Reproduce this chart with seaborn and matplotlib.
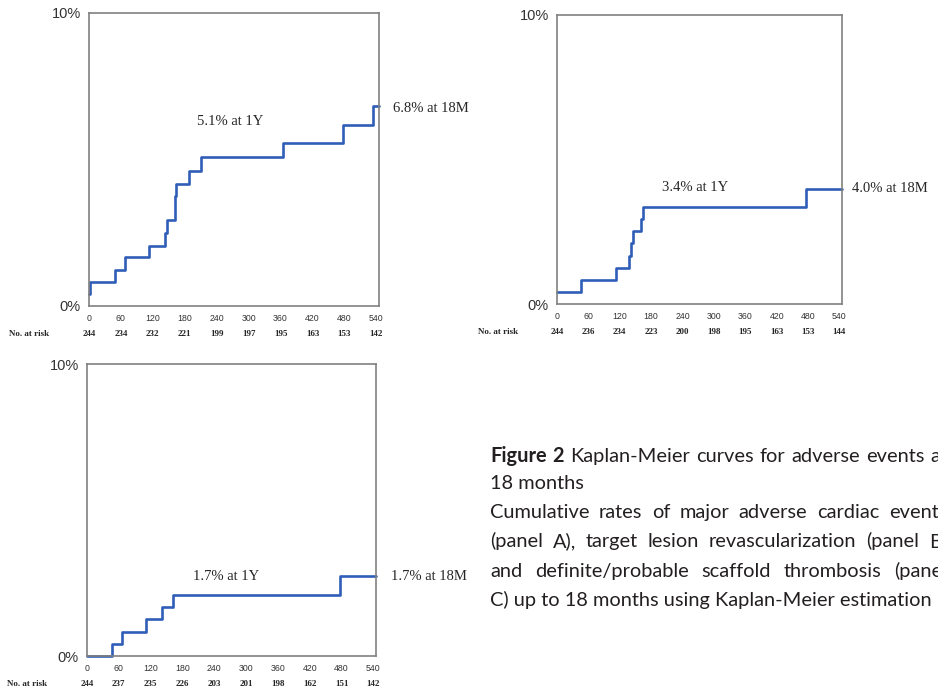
"""Kaplan-Meier curves (Figure 2) redrawn with seaborn step lines."""

import matplotlib

matplotlib.use("Agg")
import matplotlib.pyplot as plt
import pandas as pd
import seaborn as sns

DAY_TICKS = [0, 60, 120, 180, 240, 300, 360, 420, 480, 540]
RATE_TICKS = [0, 2, 4, 6, 8, 10]
RATE_LABELS = ["0%", "", "", "", "", "10%"]

# Panel A: major adverse cardiac events
A_DAYS = [0, 1, 48, 67, 112, 143, 146, 161, 164, 188, 210, 364, 478, 533, 545]
A_RATE = [0.41, 0.82, 1.24, 1.66, 2.06, 2.48, 2.92, 3.74, 4.18, 4.61, 5.09, 5.56, 6.18, 6.83, 6.83]
A_AT_RISK = [244, 234, 232, 221, 199, 197, 195, 163, 153, 142]
A_NOTES = ["5.1% at 1Y", "6.8% at 18M"]

# Panel B: target lesion revascularization
B_DAYS = [0, 46, 112, 137, 142, 145, 161, 164, 476, 545]
B_RATE = [0.41, 0.83, 1.26, 1.67, 2.10, 2.54, 2.95, 3.36, 3.99, 3.99]
B_AT_RISK = [244, 236, 234, 223, 200, 198, 195, 163, 153, 144]
B_NOTES = ["3.4% at 1Y", "4.0% at 18M"]

# Panel C: definite/probable scaffold thrombosis
C_DAYS = [0, 47, 66, 112, 142, 162, 478, 545]
C_RATE = [0.0, 0.41, 0.83, 1.27, 1.68, 2.09, 2.74, 2.74]
C_AT_RISK = [244, 237, 235, 226, 203, 201, 198, 162, 151, 142]
C_NOTES = ["1.7% at 1Y", "1.7% at 18M"]

CAPTION_LINES = [
    ["Figure", "2", "Kaplan-Meier", "curves", "for", "adverse", "events", "at"],
    ["18 months"],
    ["Cumulative", "rates", "of", "major", "adverse", "cardiac", "events"],
    ["(panel", "A),", "target", "lesion", "revascularization", "(panel", "B)"],
    ["and", "definite/probable", "scaffold", "thrombosis", "(panel"],
    ["C) up to 18 months using Kaplan-Meier estimation"],
]

BLUE = "#2F5DB7"
SPINE = "#808080"
CAPTION_FONT = "Lato"
W, H = 938, 693


def box(left, top, right, bottom):
    return [left / W, 1 - bottom / H, (right - left) / W, (bottom - top) / H]


def draw_panel(fig, rect, days, rate, at_risk, notes, note_pos):
    ax = fig.add_axes(rect)
    frame = pd.DataFrame({"day": days, "rate": rate})
    sns.lineplot(
        data=frame,
        x="day",
        y="rate",
        ax=ax,
        drawstyle="steps-post",
        color=BLUE,
        linewidth=1.9,
        estimator=None,
        clip_on=False,
    )
    ax.set_xlim(0, 545)
    ax.set_ylim(0, 10)
    ax.set_xlabel("")
    ax.set_ylabel("")
    ax.set_xticks(DAY_TICKS)
    ax.set_xticklabels([str(d) for d in DAY_TICKS], fontsize=6.3, family="Liberation Sans", color="#333333")
    ax.set_yticks(RATE_TICKS)
    ax.set_yticklabels(RATE_LABELS, fontsize=10.5, family="Liberation Sans", color="#333333")
    ax.tick_params(axis="both", direction="out", length=4, width=1.0, color=SPINE, pad=2)
    ax.tick_params(axis="x", pad=1.5)
    for spine in ax.spines.values():
        spine.set_visible(True)
        spine.set_color(SPINE)
        spine.set_linewidth(1.2)
    ax.grid(False)

    (x1, y1), (x2, y2) = note_pos
    ax.text(x1, y1, notes[0], ha="center", va="center", fontsize=10.5, family="Liberation Serif")
    ax.text(x2, y2, notes[1], ha="left", va="center", fontsize=10.5, family="Liberation Serif", clip_on=False)

    ax.text(-0.277, -0.097, "No. at risk", transform=ax.transAxes, ha="left", va="center",
            fontsize=6.5, fontweight="bold", family="Liberation Serif")
    trans = ax.get_xaxis_transform()
    for day, n in zip(DAY_TICKS, at_risk):
        ax.text(day, -0.097, str(n), transform=trans, ha="center", va="center",
                fontsize=6.5, fontweight="bold", family="Liberation Serif")
    return ax


def caption_size(fig, renderer, target=442):
    probe = fig.text(0, 0, " ".join(CAPTION_LINES[-1]), fontsize=10, family=CAPTION_FONT)
    width = probe.get_window_extent(renderer).width
    probe.remove()
    return 10 * target / width


def justified(fig, renderer, words, y, size, left=490, right=947, bold_words=0):
    items = []
    for i, word in enumerate(words):
        t = fig.text(0, 1 - y / H, word, ha="left", va="baseline", fontsize=size,
                     family=CAPTION_FONT, color="#231F20",
                     fontweight="bold" if i < bold_words else "normal")
        items.append(t)
    widths = [t.get_window_extent(renderer).width for t in items]
    if len(items) == 1:
        items[0].set_x(left / W)
        return
    gap = (right - left - sum(widths)) / (len(items) - 1)
    x = left
    for t, w in zip(items, widths):
        t.set_x(x / W)
        x += w + gap


def main():
    sns.set_theme(style="white")
    fig = plt.figure(figsize=(9.38, 6.93), dpi=100)

    draw_panel(fig, box(89, 13, 379, 306), A_DAYS, A_RATE, A_AT_RISK, A_NOTES,
               [(265, 6.28), (571, 6.75)])
    draw_panel(fig, box(557, 15, 842, 304), B_DAYS, B_RATE, B_AT_RISK, B_NOTES,
               [(264, 4.04), (565, 4.0)])
    draw_panel(fig, box(87, 364, 376, 656), C_DAYS, C_RATE, C_AT_RISK, C_NOTES,
               [(262, 2.73), (574, 2.73)])

    renderer = fig.canvas.get_renderer()
    size = caption_size(fig, renderer)
    baselines = [462, 489, 518, 547, 577, 606]
    for i, (words, y) in enumerate(zip(CAPTION_LINES, baselines)):
        justified(fig, renderer, words, y, size, bold_words=2 if i == 0 else 0)

    fig.savefig("out.png", dpi=100, facecolor="white")


if __name__ == "__main__":
    main()
